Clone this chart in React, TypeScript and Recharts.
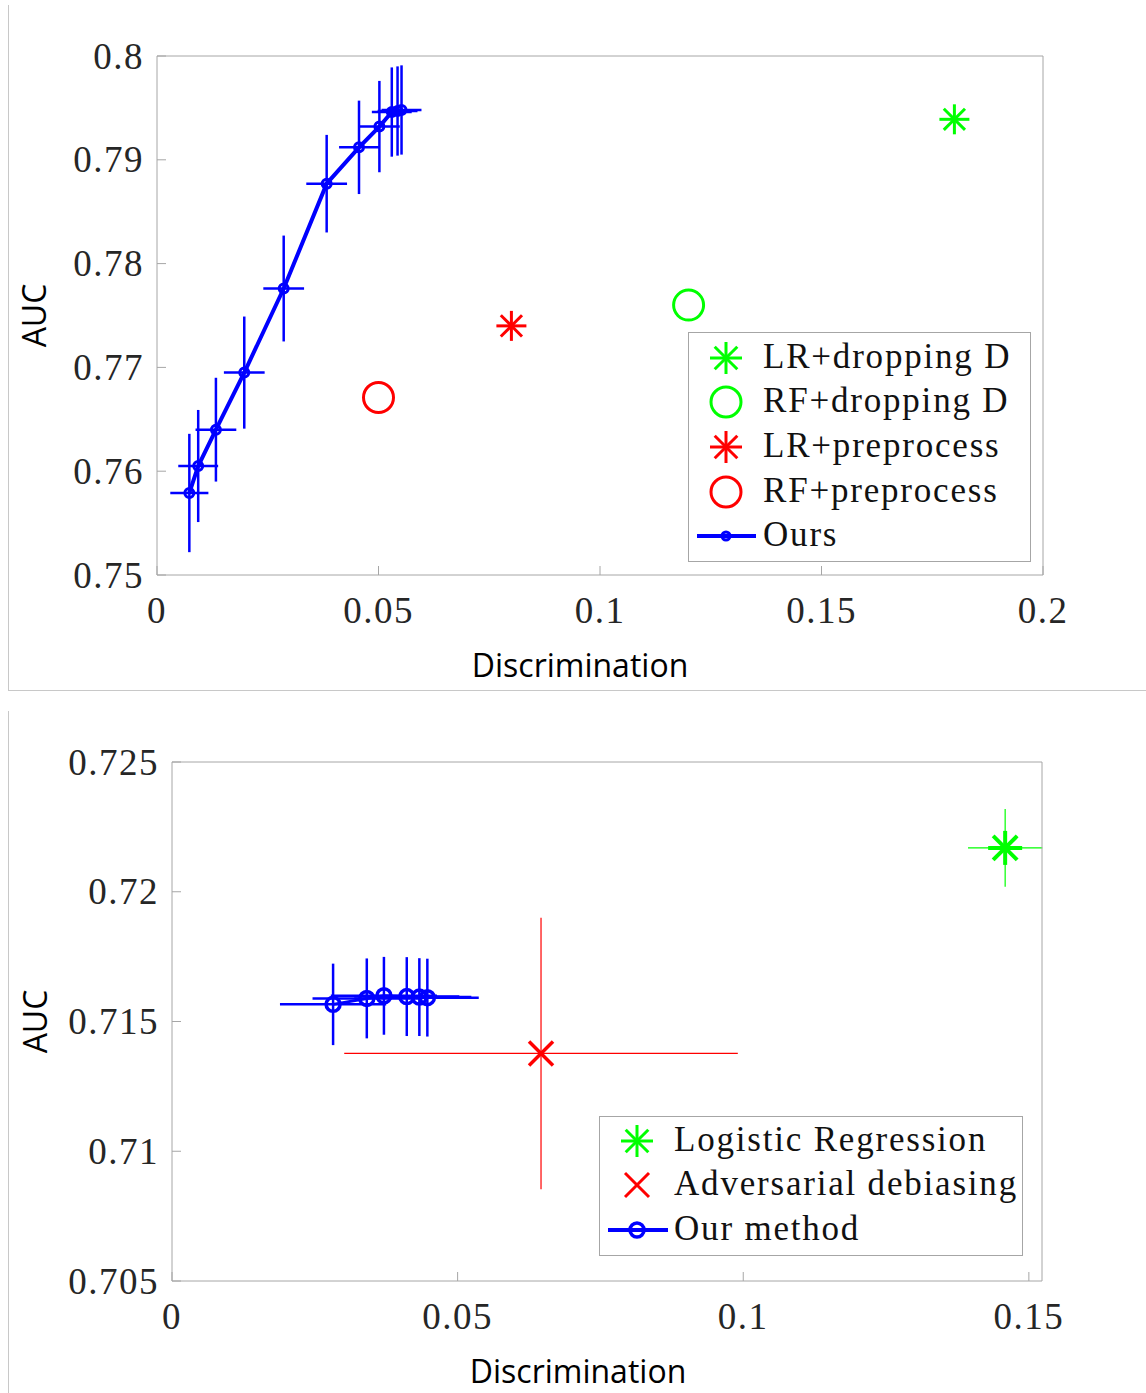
import React from 'react';
import { ScatterChart, Scatter, XAxis, YAxis, ErrorBar, Legend, Label } from 'recharts';

// ---------------- Top chart data ----------------
const topXTicks = [0, 0.05, 0.1, 0.15, 0.2];
const topYTicks = [0.75, 0.76, 0.77, 0.78, 0.79, 0.8];
const oursTopX = [0.0073, 0.0093, 0.0133, 0.0197, 0.0286, 0.0383, 0.0456, 0.0502, 0.053, 0.0543, 0.0552];
const oursTopY = [0.7579, 0.7605, 0.764, 0.7695, 0.7776, 0.7877, 0.7912, 0.7932, 0.7946, 0.7947, 0.7948];
const oursTopErrX = [0.0043, 0.0045, 0.0046, 0.0046, 0.0046, 0.0046, 0.0045, 0.0046, 0.0045, 0.0045, 0.0045];
const oursTopErrY = [0.0057, 0.0054, 0.005, 0.0054, 0.0051, 0.0047, 0.0045, 0.0044, 0.0043, 0.0043, 0.0043];
const topBaselineNames = ['LR+dropping D', 'RF+dropping D', 'LR+preprocess', 'RF+preprocess'];
const topBaselineX = [0.18, 0.12, 0.08, 0.05];
const topBaselineY = [0.7939, 0.776, 0.774, 0.7671];
const topBaselineColors = ['#00ff00', '#00ff00', '#ff0000', '#ff0000'];
const topBaselineMarkers = ['star', 'circle', 'star', 'circle'];
const topOursName = 'Ours';

// ---------------- Bottom chart data ----------------
const botXTicks = [0, 0.05, 0.1, 0.15];
const botYTicks = [0.705, 0.71, 0.715, 0.72, 0.725];
const oursBotX = [0.0282, 0.0341, 0.0371, 0.0411, 0.0433, 0.0447];
const oursBotY = [0.71566, 0.71589, 0.71599, 0.71596, 0.71594, 0.71592];
const oursBotErrX = [0.0093, 0.0095, 0.0093, 0.0092, 0.0091, 0.009];
const oursBotErrY = [0.00157, 0.00154, 0.0015, 0.00152, 0.0015, 0.0015];
const lrBotName = 'Logistic Regression';
const lrBotX = [0.14585];
const lrBotY = [0.72169];
const lrBotErrX = [0.0065];
const lrBotErrY = [0.0015];
const advBotName = 'Adversarial debiasing';
const advBotX = [0.0646];
const advBotY = [0.71377];
const advBotErrX = [0.03445];
const advBotErrY = [0.00523];
const oursBotName = 'Our method';

// ---------------- helpers ----------------
const BLUE = '#0000ff';
const GREEN = '#00ff00';
const RED = '#ff0000';
const AXIS = '#a6a6a6';
const SERIF = '"Liberation Serif", "Times New Roman", serif';
const SANS = '"Open Sans", "Noto Sans", sans-serif';

const fmt = (v: number) => String(parseFloat(Number(v).toFixed(3)));

const zipPts = (xs: number[], ys: number[], exs?: number[], eys?: number[]) =>
  xs.map((x, i) => ({ x, y: ys[i], ex: exs ? exs[i] : 0, ey: eys ? eys[i] : 0 }));

const StarShape = ({ cx, cy, r, color, sw }: any) => {
  const d = r * Math.SQRT1_2;
  return (
    <g stroke={color} strokeWidth={sw} fill="none">
      <line x1={cx - r} y1={cy} x2={cx + r} y2={cy} />
      <line x1={cx} y1={cy - r} x2={cx} y2={cy + r} />
      <line x1={cx - d} y1={cy - d} x2={cx + d} y2={cy + d} />
      <line x1={cx - d} y1={cy + d} x2={cx + d} y2={cy - d} />
    </g>
  );
};

const CircleShape = ({ cx, cy, r, color, sw }: any) => (
  <circle cx={cx} cy={cy} r={r} fill="none" stroke={color} strokeWidth={sw} />
);

const XShape = ({ cx, cy, r, color, sw }: any) => (
  <g stroke={color} strokeWidth={sw} fill="none">
    <line x1={cx - r} y1={cy - r} x2={cx + r} y2={cy + r} />
    <line x1={cx - r} y1={cy + r} x2={cx + r} y2={cy - r} />
  </g>
);

const YTick = (props: any) => {
  const { x, y, payload } = props;
  return (
    <text x={x} y={y} dy={12.5} textAnchor="end" fontFamily={SERIF} fontSize={37} fill="#262626" style={{ letterSpacing: '1.5px' }}>
      {fmt(payload.value)}
    </text>
  );
};

const XTick = (props: any) => {
  const { x, y, payload } = props;
  return (
    <text x={x} y={y} dy={25} textAnchor="middle" fontFamily={SERIF} fontSize={37} fill="#262626" style={{ letterSpacing: '1.5px' }}>
      {fmt(payload.value)}
    </text>
  );
};

const xTitle = (dxShift: number) => (props: any) => {
  const vb = props.viewBox || {};
  return (
    <text x={vb.x + vb.width / 2 + dxShift} y={vb.y + 102} textAnchor="middle" fontFamily={SANS} fontSize={32} fill="#000">
      Discrimination
    </text>
  );
};

const yTitle = (fromPlotLeft: number) => (props: any) => {
  const vb = props.viewBox || {};
  const bx = vb.x + vb.width - fromPlotLeft;
  const cy = vb.y + vb.height / 2;
  return (
    <text x={bx} y={cy} textAnchor="middle" fontFamily={SANS} fontSize={32} fill="#000" transform={`rotate(-90, ${bx}, ${cy})`}>
      AUC
    </text>
  );
};

type LegendItem = { name: string; marker: (cx: number, cy: number) => React.ReactNode };

const LegendBox = ({ items, width, height, rows }: { items: LegendItem[]; width: number; height: number; rows: number[] }) => (
  <svg width={width} height={height} style={{ display: 'block' }}>
    <rect x={0.5} y={0.5} width={width - 1} height={height - 1} fill="#fff" stroke={AXIS} strokeWidth={1} />
    {items.map((it, i) => (
      <g key={it.name}>
        {it.marker(38, rows[i])}
        <text x={75} y={rows[i] + 10} fontFamily={SERIF} fontSize={35} fill="#111" style={{ letterSpacing: '1.8px' }}>
          {it.name}
        </text>
      </g>
    ))}
  </svg>
);

// ---------------- charts ----------------
const topOurs = zipPts(oursTopX, oursTopY, oursTopErrX, oursTopErrY);
const topBaselines = topBaselineNames.map((name, i) => ({
  name,
  data: [{ x: topBaselineX[i], y: topBaselineY[i] }],
  color: topBaselineColors[i],
  marker: topBaselineMarkers[i],
}));

const topLegendItems: LegendItem[] = [
  ...topBaselines.map((b) => ({
    name: b.name,
    marker: (cx: number, cy: number) =>
      b.marker === 'star' ? (
        <StarShape cx={cx} cy={cy} r={16} color={b.color} sw={3} />
      ) : (
        <CircleShape cx={cx} cy={cy} r={15} color={b.color} sw={3} />
      ),
  })),
  {
    name: topOursName,
    marker: (cx: number, cy: number) => (
      <g>
        <line x1={cx - 29} y1={cy} x2={cx + 30} y2={cy} stroke={BLUE} strokeWidth={4} />
        <CircleShape cx={cx} cy={cy} r={4} color={BLUE} sw={3} />
      </g>
    ),
  },
];

const botOurs = zipPts(oursBotX, oursBotY, oursBotErrX, oursBotErrY);
const botLR = zipPts(lrBotX, lrBotY, lrBotErrX, lrBotErrY);
const botAdv = zipPts(advBotX, advBotY, advBotErrX, advBotErrY);

const botLegendItems: LegendItem[] = [
  { name: lrBotName, marker: (cx, cy) => <StarShape cx={cx} cy={cy} r={16} color={GREEN} sw={3} /> },
  { name: advBotName, marker: (cx, cy) => <XShape cx={cx} cy={cy} r={12} color={RED} sw={3} /> },
  {
    name: oursBotName,
    marker: (cx, cy) => (
      <g>
        <line x1={cx - 29} y1={cy} x2={cx + 31} y2={cy} stroke={BLUE} strokeWidth={4} />
        <CircleShape cx={cx} cy={cy} r={7} color={BLUE} sw={3.5} />
      </g>
    ),
  },
];

const TopChart = () => (
  <ScatterChart width={1146} height={690} margin={{ top: 55, right: 102, bottom: 55, left: 57 }}>
    <XAxis
      xAxisId={0}
      type="number"
      dataKey="x"
      domain={[0, 0.2]}
      ticks={topXTicks}
      allowDataOverflow
      height={60}
      stroke={AXIS}
      tickSize={-9}
      tickMargin={32}
      tick={<XTick />}
    >
      <Label content={xTitle(-20)} />
    </XAxis>
    <XAxis xAxisId="top" orientation="top" type="number" domain={[0, 0.2]} ticks={topXTicks} height={1} stroke={AXIS} tickSize={-9} tick={false} />
    <YAxis
      yAxisId={0}
      type="number"
      dataKey="y"
      domain={[0.75, 0.8]}
      ticks={topYTicks}
      allowDataOverflow
      width={100}
      stroke={AXIS}
      tickSize={-9}
      tickMargin={22}
      tick={<YTick />}
    >
      <Label content={yTitle(111)} />
    </YAxis>
    <YAxis yAxisId="right" orientation="right" type="number" domain={[0.75, 0.8]} ticks={topYTicks} width={1} stroke={AXIS} tickSize={-9} tick={false} />
    {topBaselines.map((b) => (
      <Scatter
        key={b.name}
        name={b.name}
        data={b.data}
        isAnimationActive={false}
        shape={(p: any) =>
          b.marker === 'star' ? (
            <StarShape cx={p.cx} cy={p.cy} r={15} color={b.color} sw={3} />
          ) : (
            <CircleShape cx={p.cx} cy={p.cy} r={15} color={b.color} sw={3} />
          )
        }
      />
    ))}
    <Scatter
      name={topOursName}
      data={topOurs}
      isAnimationActive={false}
      line={{ stroke: BLUE, strokeWidth: 4 }}
      shape={(p: any) => <CircleShape cx={p.cx} cy={p.cy} r={4.5} color={BLUE} sw={3} />}
    >
      <ErrorBar dataKey="ex" direction="x" width={0} stroke={BLUE} strokeWidth={2.5} isAnimationActive={false} />
      <ErrorBar dataKey="ey" direction="y" width={0} stroke={BLUE} strokeWidth={2.5} isAnimationActive={false} />
    </Scatter>
    <Legend
      layout="vertical"
      align="center"
      verticalAlign="middle"
      wrapperStyle={{ left: 688, top: 332, width: 343, height: 230 }}
      content={() => <LegendBox items={topLegendItems} width={343} height={230} rows={[26, 70, 115, 160, 204]} />}
    />
  </ScatterChart>
);

const BottomChart = () => (
  <ScatterChart width={1146} height={693} margin={{ top: 61, right: 103, bottom: 52, left: 72 }}>
    <XAxis
      xAxisId={0}
      type="number"
      dataKey="x"
      domain={[0, 0.1523]}
      ticks={botXTicks}
      allowDataOverflow
      height={60}
      stroke={AXIS}
      tickSize={-9}
      tickMargin={32}
      tick={<XTick />}
    >
      <Label content={xTitle(-29)} />
    </XAxis>
    <XAxis xAxisId="top" orientation="top" type="number" domain={[0, 0.1523]} ticks={botXTicks} height={1} stroke={AXIS} tickSize={-9} tick={false} />
    <YAxis
      yAxisId={0}
      type="number"
      dataKey="y"
      domain={[0.705, 0.725]}
      ticks={botYTicks}
      allowDataOverflow
      width={100}
      stroke={AXIS}
      tickSize={-9}
      tickMargin={22}
      tick={<YTick />}
    >
      <Label content={yTitle(125)} />
    </YAxis>
    <YAxis yAxisId="right" orientation="right" type="number" domain={[0.705, 0.725]} ticks={botYTicks} width={1} stroke={AXIS} tickSize={-9} tick={false} />
    <Scatter
      name={lrBotName}
      data={botLR}
      isAnimationActive={false}
      shape={(p: any) => <StarShape cx={p.cx} cy={p.cy} r={17} color={GREEN} sw={4} />}
    >
      <ErrorBar dataKey="ex" direction="x" width={0} stroke={GREEN} strokeWidth={1.2} isAnimationActive={false} />
      <ErrorBar dataKey="ey" direction="y" width={0} stroke={GREEN} strokeWidth={1.2} isAnimationActive={false} />
    </Scatter>
    <Scatter
      name={advBotName}
      data={botAdv}
      isAnimationActive={false}
      shape={(p: any) => <XShape cx={p.cx} cy={p.cy} r={12} color={RED} sw={3.5} />}
    >
      <ErrorBar dataKey="ex" direction="x" width={0} stroke={RED} strokeWidth={1.2} isAnimationActive={false} />
      <ErrorBar dataKey="ey" direction="y" width={0} stroke={RED} strokeWidth={1.2} isAnimationActive={false} />
    </Scatter>
    <Scatter
      name={oursBotName}
      data={botOurs}
      isAnimationActive={false}
      line={{ stroke: BLUE, strokeWidth: 3 }}
      shape={(p: any) => <CircleShape cx={p.cx} cy={p.cy} r={7} color={BLUE} sw={3.5} />}
    >
      <ErrorBar dataKey="ex" direction="x" width={0} stroke={BLUE} strokeWidth={2.5} isAnimationActive={false} />
      <ErrorBar dataKey="ey" direction="y" width={0} stroke={BLUE} strokeWidth={2.5} isAnimationActive={false} />
    </Scatter>
    <Legend
      layout="vertical"
      align="center"
      verticalAlign="middle"
      wrapperStyle={{ left: 599, top: 416, width: 424, height: 140 }}
      content={() => <LegendBox items={botLegendItems} width={424} height={140} rows={[25, 69, 114]} />}
    />
  </ScatterChart>
);

export default function App() {
  const border = '#c8c8c8';
  return (
    <div style={{ position: 'absolute', left: 0, top: 0, width: 1146, height: 1393, background: '#fff', overflow: 'hidden' }}>
      <div style={{ position: 'absolute', left: 8, top: 5, width: 1, height: 685, background: border }} />
      <div style={{ position: 'absolute', left: 8, top: 690, width: 1138, height: 1, background: border }} />
      <div style={{ position: 'absolute', left: 8, top: 711, width: 1, height: 682, background: border }} />
      <div style={{ position: 'absolute', left: 0, top: 0 }}>
        <TopChart />
      </div>
      <div style={{ position: 'absolute', left: 0, top: 700 }}>
        <BottomChart />
      </div>
    </div>
  );
}
